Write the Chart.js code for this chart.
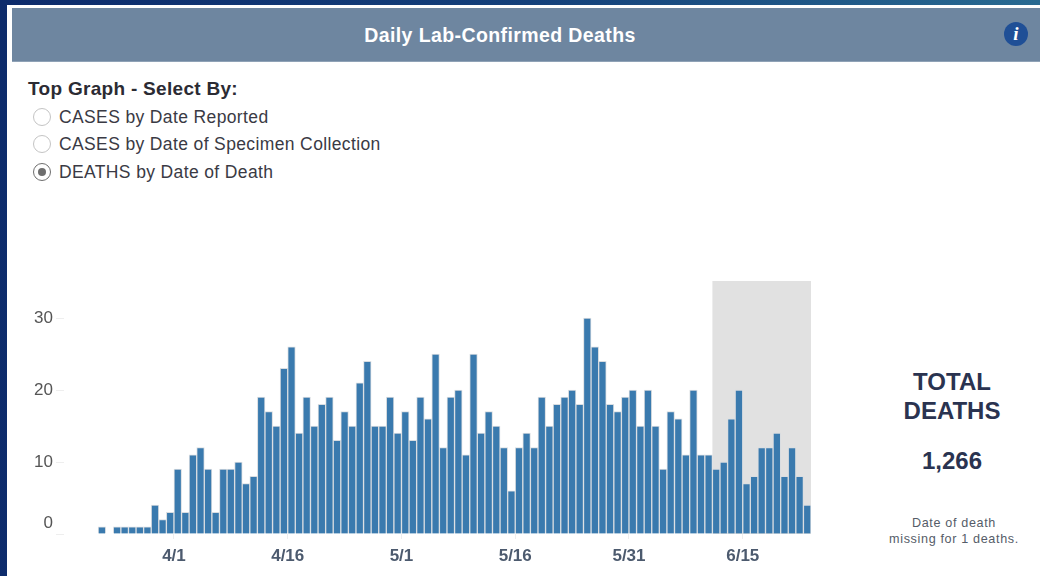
<!DOCTYPE html>
<html>
<head>
<meta charset="utf-8">
<title>Daily Lab-Confirmed Deaths</title>
<script src="https://cdn.jsdelivr.net/npm/chart.js@4"></script>
<style>
  html, body { margin: 0; padding: 0; }
  body {
    width: 1040px; height: 576px; overflow: hidden; position: relative;
    background: linear-gradient(92deg, #0d2b6b 0%, #14407a 50%, #2a6c92 100%);
    font-family: "Liberation Sans", Arial, sans-serif;
  }
  #panel { position: absolute; left: 7px; top: 5px; right: 0; bottom: 0; background: #fff; }
  #header {
    position: absolute; left: 12px; top: 8px; right: 0; height: 54px; line-height: 54px;
    background: #6e86a0; color: #fff; font-size: 19.5px; font-weight: bold; letter-spacing: .4px; text-align: center;
    padding-right: 52px; box-sizing: border-box; border-bottom: 1px solid #8fa2b6;
  }
  #info {
    position: absolute; left: 1004px; top: 22px; width: 24px; height: 24px; border-radius: 50%;
    background: #1f4f96; color: #fff; font: italic bold 19px/24px "Liberation Serif", serif; text-align: center;
  }
  #selectTitle { position: absolute; left: 28px; top: 78px; font-size: 19px; letter-spacing: .3px; font-weight: bold; color: #2b2b33; line-height: 22px; }
  .opt { position: absolute; left: 33px; height: 20px; line-height: 20px; font-size: 17.5px; letter-spacing: .37px; color: #3a3a44; white-space: nowrap; }
  .opt i {
    display: inline-block; width: 16px; height: 16px; border: 1.5px solid #c4c4c4; border-radius: 50%;
    vertical-align: -3px; margin-right: 8px; position: relative;
  }
  .opt i.on { border-color: #6e6e6e; }
  .opt i.on::after {
    content: ""; position: absolute; left: 4px; top: 4px; width: 8px; height: 8px; border-radius: 50%; background: #6e6e6e;
  }
  #chartWrap { position: absolute; left: 0; top: 281px; width: 811px; height: 295px; }
  .side { position: absolute; left: 852px; width: 200px; text-align: center; color: #2a3350; }
  .big { font-size: 24px; font-weight: bold; line-height: 28px; }
  .note { left: 854px; font-size: 12.6px; line-height: 16px; color: #555c68; letter-spacing: .65px; }
</style>
</head>
<body>
<div id="panel"></div>
<div id="header">Daily Lab-Confirmed Deaths</div>
<div id="info">i</div>
<div id="selectTitle">Top Graph - Select By:</div>
<div class="opt" style="top:107px"><i></i>CASES by Date Reported</div>
<div class="opt" style="top:134px"><i></i>CASES by Date of Specimen Collection</div>
<div class="opt" style="top:162px"><i class="on"></i>DEATHS by Date of Death</div>
<div id="chartWrap"><canvas id="deathsChart" width="811" height="295"></canvas></div>
<div class="side big" style="top:368px">TOTAL</div>
<div class="side big" style="top:397px">DEATHS</div>
<div class="side big" style="top:447px">1,266</div>
<div class="side note" style="top:515px">Date of death</div>
<div class="side note" style="top:531px">missing for 1 deaths.</div>

<script>
// deaths per day, first bar is 3/22, last is 6/23
const deaths = [
  1, 0, 1, 1, 1, 1, 1, 4, 2, 3,
  9, 3, 11, 12, 9, 3, 9, 9, 10, 7, 8, 19, 17, 15, 23, 26, 14, 19, 15, 18, 19, 13, 17, 15, 21, 24, 15, 15, 19, 14,
  17, 13, 19, 16, 25, 12, 19, 20, 11, 25, 14, 17, 15, 12, 6, 12, 14, 12, 19, 15, 18, 19, 20, 18, 30, 26, 24, 18, 17, 19, 20,
  15, 20, 15, 9, 17, 16, 11, 20, 11, 11, 9, 10, 16, 20, 7, 8, 12, 12, 14, 8, 12, 8, 4
];
const tickLabels = ['4/1', '4/16', '5/1', '5/16', '5/31', '6/15'];
const tickDays = [10, 25, 40, 55, 70, 85]; // days after 3/22
const shadeFromDay = 81; // 6/11, grey band runs to the end of the data

const COLORS = {
  bar: '#3a7aae',
  barEdge: '#d9dde1',
  shade: '#e1e1e1',
  tick: '#eeeeee',
  xLabel: '#4c5a6e',
  yLabel: '#555555',
};

const shadeBand = {
  id: 'shadeBand',
  beforeDatasetsDraw(chart) {
    const { ctx, chartArea, scales } = chart;
    const left = scales.x.getPixelForValue(shadeFromDay);
    const right = scales.x.getPixelForValue(deaths.length);
    ctx.save();
    ctx.fillStyle = COLORS.shade;
    ctx.fillRect(left, chartArea.top, right - left, chartArea.bottom - chartArea.top);
    ctx.restore();
  }
};

new Chart(document.getElementById('deathsChart'), {
  type: 'bar',
  data: {
    datasets: [{
      // a bar starts at its date tick, so it is centred half a day later
      data: deaths.map((v, i) => ({ x: i + 0.5, y: v })),
      backgroundColor: COLORS.bar,
      borderColor: COLORS.barEdge,
      borderWidth: 1,
      barPercentage: 1,
      categoryPercentage: 1,
    }]
  },
  options: {
    responsive: false,
    animation: false,
    layout: { padding: 0 },
    plugins: { legend: { display: false }, tooltip: { enabled: false } },
    scales: {
      x: {
        type: 'linear',
        offset: false,
        min: -4.5,
        max: deaths.length,
        afterBuildTicks: (scale) => { scale.ticks = tickDays.map((v) => ({ value: v })); },
        afterFit: (scale) => {
          scale.height = 42;
          scale.paddingLeft = 0;
          scale.paddingRight = 0;
        },
        grid: { offset: false, drawOnChartArea: false, color: COLORS.tick, tickLength: 5 },
        border: { display: false },
        ticks: {
          autoSkip: false,
          maxRotation: 0,
          padding: 7,
          color: COLORS.xLabel,
          font: { family: 'Liberation Sans', size: 17, weight: 700 },
          callback: (value) => tickLabels[tickDays.indexOf(value)],
        }
      },
      y: {
        min: 0,
        max: 35.14,
        afterFit: (scale) => {
          scale.width = 64;
          scale.paddingTop = 0;
          scale.paddingBottom = 0;
        },
        grid: { drawOnChartArea: false, color: COLORS.tick, tickLength: 8 },
        border: { display: false },
        ticks: {
          stepSize: 10,
          includeBounds: false,
          padding: 3,
          color: COLORS.yLabel,
          font: { family: 'Liberation Sans', size: 17, lineHeight: 1.3 },
          // the zero label sits higher than its tick in the original
          callback: (value) => (value === 0 ? ['0', ''] : String(value)),
        }
      }
    }
  },
  plugins: [shadeBand]
});
</script>
</body>
</html>
